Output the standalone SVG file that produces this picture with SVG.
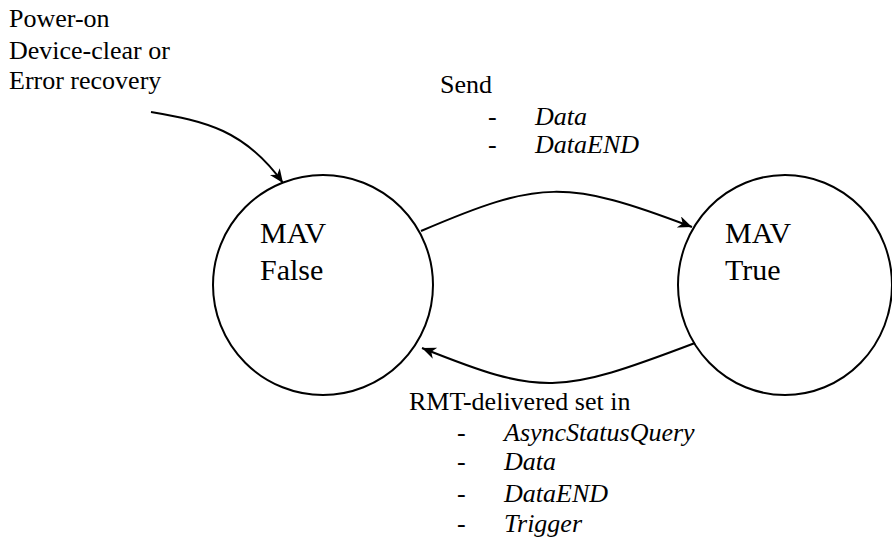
<svg xmlns="http://www.w3.org/2000/svg" width="892" height="540" viewBox="0 0 892 540">
<style>
text{font-family:'Liberation Serif','DejaVu Serif',serif;fill:#000}
.t{font-size:26px}
.s{font-size:30px}
.i{font-style:italic}
.n{fill:#fff;stroke:#000;stroke-width:2}
.c{fill:none;stroke:#000;stroke-width:2}
</style>
<defs>
<marker id="ah" markerUnits="userSpaceOnUse" markerWidth="18" markerHeight="14" refX="14" refY="6" orient="auto">
<path d="M0,0 L14,6 L0,12 L4,6 z" fill="#000"/>
</marker>
</defs>
<rect width="892" height="540" fill="#fff"/>
<g id="node-false">
<circle class="n" cx="323" cy="285" r="110"/>
<text class="s" x="260" y="243">MAV</text>
<text class="s" x="260" y="280">False</text>
</g>
<g id="node-true">
<ellipse class="n" cx="785" cy="285" rx="107" ry="110"/>
<text class="s" x="725" y="243">MAV</text>
<text class="s" x="725" y="280">True</text>
</g>
<g id="connectors">
<path class="c" d="M151,112 C205,121 245,130 283,183" marker-end="url(#ah)"/>
<path class="c" d="M421,231 C540,180 566,179 692,227" marker-end="url(#ah)"/>
<path class="c" d="M695,343 C558,395 542,396 422,348" marker-end="url(#ah)"/>
</g>
<g id="labels">
<text class="t" x="9" y="27">Power-on</text>
<text class="t" x="9" y="59">Device-clear or</text>
<text class="t" x="9" y="89">Error recovery</text>
<text class="t" x="440" y="93">Send</text>
<text class="t" x="488" y="125">-</text>
<text class="t i" x="535" y="125">Data</text>
<text class="t" x="488" y="153">-</text>
<text class="t i" x="535" y="153">DataEND</text>
<text class="t" x="409" y="410">RMT-delivered set in</text>
<text class="t" x="457" y="441">-</text>
<text class="t i" x="504" y="441">AsyncStatusQuery</text>
<text class="t" x="457" y="470">-</text>
<text class="t i" x="504" y="470">Data</text>
<text class="t" x="457" y="502">-</text>
<text class="t i" x="504" y="502">DataEND</text>
<text class="t" x="457" y="532">-</text>
<text class="t i" x="504" y="532">Trigger</text>
</g>
</svg>
